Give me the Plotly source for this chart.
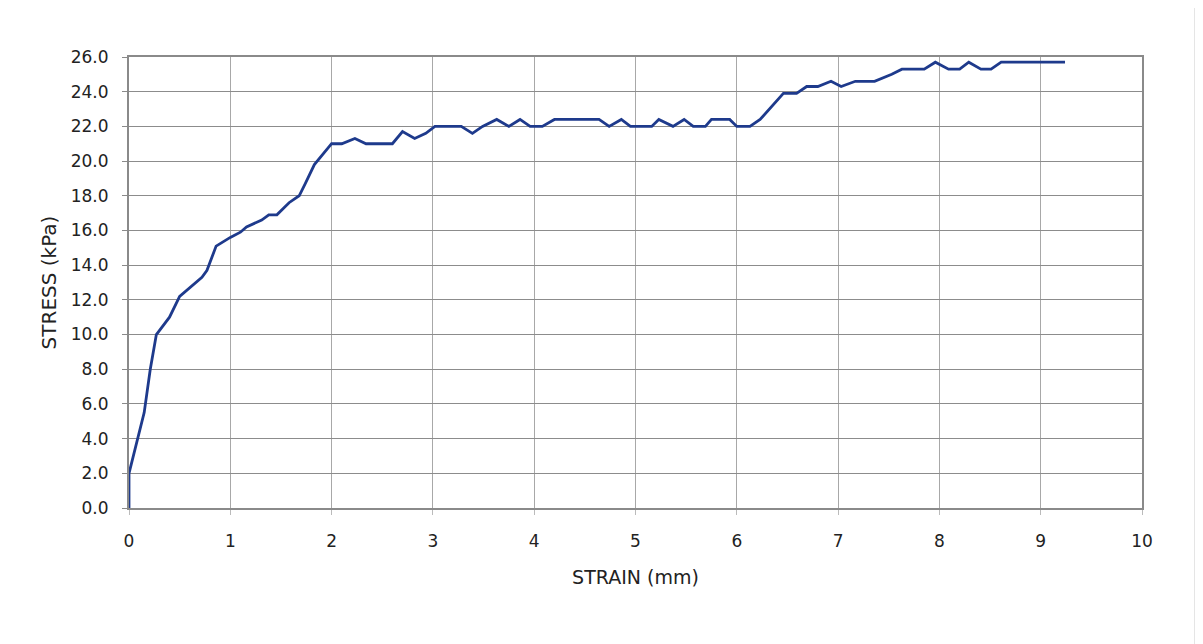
import plotly.graph_objects as go

strain_mm = [0, 0, 0.15, 0.21, 0.27, 0.4, 0.5, 0.62, 0.72, 0.77, 0.86, 1.0, 1.1, 1.16,
             1.31, 1.38, 1.46, 1.58, 1.68, 1.74, 1.83, 2.0, 2.1, 2.23, 2.34, 2.6, 2.7,
             2.82, 2.93, 3.02, 3.28, 3.39, 3.49, 3.63, 3.75, 3.86, 3.96, 4.08, 4.2,
             4.64, 4.74, 4.86, 4.95, 5.16, 5.23, 5.37, 5.48, 5.57, 5.69, 5.75, 5.93,
             6.0, 6.13, 6.23, 6.34, 6.46, 6.59, 6.69, 6.8, 6.93, 7.03, 7.17, 7.36,
             7.53, 7.63, 7.85, 7.96, 8.09, 8.2, 8.29, 8.41, 8.51, 8.61, 9.24]
stress_kpa = [0, 2.0, 5.5, 8.0, 10.0, 11.0, 12.2, 12.8, 13.3, 13.7, 15.1, 15.6, 15.9, 16.2,
              16.6, 16.9, 16.9, 17.6, 18.0, 18.7, 19.8, 21.0, 21.0, 21.3, 21.0, 21.0, 21.7,
              21.3, 21.6, 22.0, 22.0, 21.6, 22.0, 22.4, 22.0, 22.4, 22.0, 22.0, 22.4,
              22.4, 22.0, 22.4, 22.0, 22.0, 22.4, 22.0, 22.4, 22.0, 22.0, 22.4, 22.4,
              22.0, 22.0, 22.4, 23.1, 23.9, 23.9, 24.3, 24.3, 24.6, 24.3, 24.6, 24.6,
              25.0, 25.3, 25.3, 25.7, 25.3, 25.3, 25.7, 25.3, 25.3, 25.7, 25.7]

x_ticks = list(range(0, 11))
y_ticks = [v * 2 for v in range(0, 14)]
y_tick_text = [f"{v:.1f}" for v in y_ticks]

font_family = "DejaVu Sans, Liberation Sans, Arial, sans-serif"

fig = go.Figure()
fig.add_trace(go.Scatter(
    x=strain_mm, y=stress_kpa, mode="lines",
    line=dict(color="#1e3a8c", width=2.8),
    showlegend=False, hoverinfo="x+y",
))

fig.update_layout(
    width=1203, height=644,
    margin=dict(l=121, r=69, t=49, b=144),
    paper_bgcolor="white", plot_bgcolor="white",
    font=dict(family=font_family, color="#222222", size=17),
    shapes=[dict(type="rect", xref="paper", yref="paper",
                 x0=-0.1204, x1=1.0523, y0=-0.4, y1=1.1109,
                 line=dict(color="#cfcfcf", width=1), layer="below")],
)

fig.update_xaxes(
    range=[0, 10], tickmode="array", tickvals=x_ticks,
    ticktext=[str(v) for v in x_ticks],
    showgrid=True, gridcolor="#a8a8a8", gridwidth=1,
    zeroline=False,
    showline=True, linecolor="#8a8a8a", linewidth=2, mirror=True,
    ticks="outside", ticklen=5, tickcolor="#bbbbbb", tickwidth=1,
    ticklabelstandoff=12,
    tickfont=dict(size=17),
    title=dict(text="STRAIN (mm)", font=dict(size=19), standoff=20),
)
fig.update_yaxes(
    range=[0, 26], tickmode="array", tickvals=y_ticks, ticktext=y_tick_text,
    showgrid=True, gridcolor="#8c8c8c", gridwidth=1,
    zeroline=False,
    showline=True, linecolor="#8a8a8a", linewidth=2, mirror=True,
    ticks="outside", ticklen=5, tickcolor="#8a8a8a", tickwidth=1,
    ticklabelstandoff=10,
    tickfont=dict(size=17),
    title=dict(text="STRESS (kPa)", font=dict(size=20), standoff=9),
)

fig.write_html("out.html")
